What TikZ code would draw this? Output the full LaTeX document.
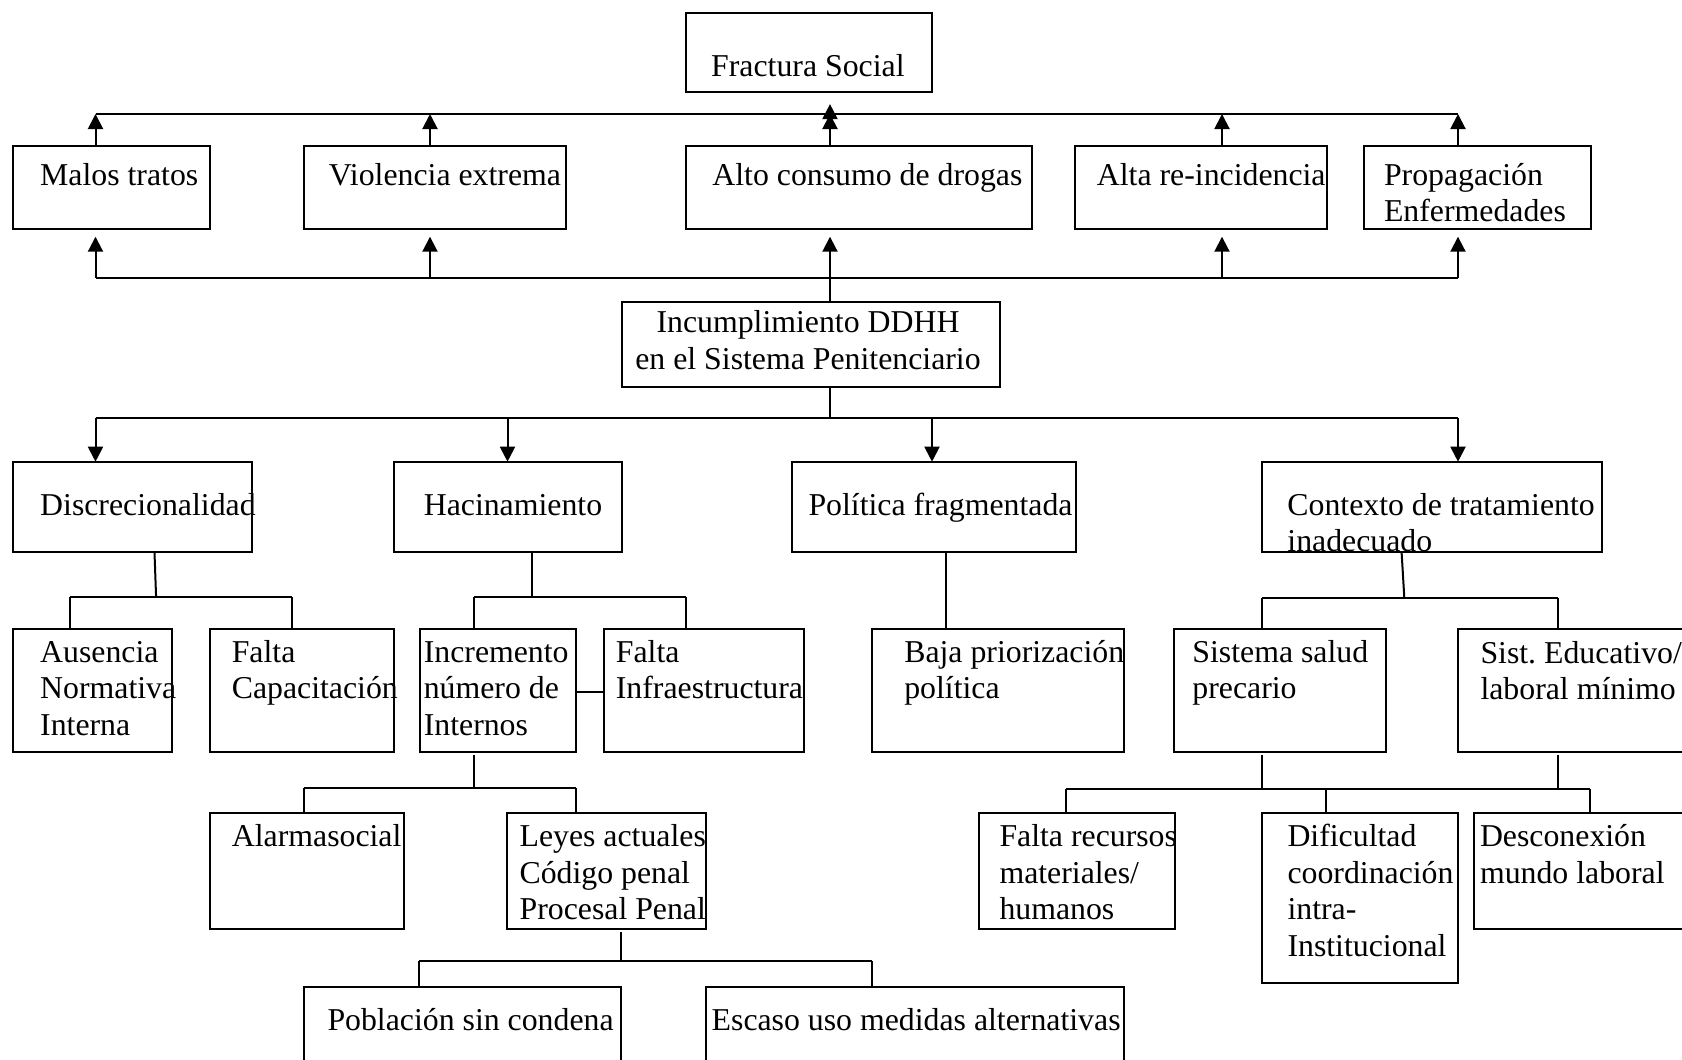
\documentclass[tikz,border=0pt]{standalone}
\usepackage{fontspec}
\setmainfont{Liberation Serif}
\usetikzlibrary{arrows.meta}
\frenchspacing
\newcommand\bx[5]{\node[box, minimum width={(#4-#2)*0.5pt}, minimum height={(#5-#3)*0.5pt}, anchor=north west] (#1) at (#2,#3) {};}
\newcommand\tx[4]{\node[txt, anchor=base west] (#1) at (#2,#3) {#4};}
\begin{document}
\begin{tikzpicture}[x=0.5pt,y=-0.5pt, line width=1pt,
 box/.style={draw, rectangle, inner sep=0pt, outer sep=0pt},
 txt/.style={inner sep=0pt, outer sep=0pt, align=left, font=\fontsize{15.9pt}{18.25pt}\selectfont},
 arr/.style={-{Triangle[length=7.5pt,width=7.5pt]}}]
\useasboundingbox (0,0) rectangle (1682,1060);
\clip (0,0) rectangle (1682,1060);
% boxes
\bx{fract}{685.6}{12.7}{932.2}{92.3}
\bx{malos}{13.4}{145.7}{209.8}{228.7}
\bx{viol}{303.6}{145.7}{566}{228.7}
\bx{alto}{685.6}{145.7}{1032}{228.7}
\bx{alta}{1075.4}{145.7}{1326.5}{228.7}
\bx{prop}{1364}{145.7}{1590.5}{228.7}
\bx{inc}{622.3}{301.7}{999.8}{386.7}
\bx{disc}{13.4}{461.7}{252}{552.3}
\bx{hac}{394.3}{461.7}{622.3}{552.3}
\bx{pol}{792.4}{461.7}{1076}{552.3}
\bx{ctx}{1262}{461.7}{1602}{552.3}
\bx{aus}{13.4}{629.3}{172.2}{751.7}
\bx{cap}{209.8}{629.3}{393.8}{751.7}
\bx{incr}{420}{629.3}{576.2}{751.7}
\bx{infra}{604}{629.3}{804.2}{751.7}
\bx{baja}{872}{629.3}{1124.3}{751.7}
\bx{salud}{1174}{629.3}{1386}{751.7}
\bx{educ}{1457.7}{629.3}{1720}{751.7}
\bx{alarma}{209.7}{812.7}{404}{929}
\bx{leyes}{507.4}{812.7}{705.6}{929}
\bx{recur}{979.4}{812.7}{1174.6}{929}
\bx{dific}{1262}{812.7}{1458}{983}
\bx{descon}{1473.5}{812.7}{1720}{929}
\bx{pobl}{303.8}{987.3}{621.4}{1100}
\bx{escaso}{705.6}{987.3}{1124.2}{1100}
% texts (anchor = baseline of last line)
\tx{fract-t}{711.2}{76}{Fractura Social}
\tx{malos-t}{40.2}{185}{Malos tratos}
\tx{viol-t}{328.9}{185}{Violencia extrema}
\tx{alto-t}{712.4}{185}{Alto consumo de drogas}
\tx{alta-t}{1096.9}{185}{Alta re-incidencia}
\tx{prop-t}{1384}{221.5}{Propagación\\Enfermedades}
\node[txt, align=center, anchor=base] (inc-t) at (808,369.2) {Incumplimiento DDHH\\en el Sistema Penitenciario};
\tx{disc-t}{40.2}{515.7}{Discrecionalidad}
\tx{hac-t}{423.8}{515.7}{Hacinamiento}
\tx{pol-t}{808.5}{515.7}{Política fragmentada}
\tx{ctx-t}{1287.4}{551.5}{Contexto de tratamiento\\inadecuado}
\tx{aus-t}{40.2}{735}{Ausencia\\Normativa\\Interna}
\tx{cap-t}{231.8}{698.5}{Falta\\Capacitación}
\tx{incr-t}{423.8}{735}{Incremento\\número de\\Internos}
\tx{infra-t}{615.9}{698.5}{Falta\\Infraestructura}
\tx{baja-t}{904.3}{698.5}{Baja priorización\\política}
\tx{salud-t}{1192.4}{698.5}{Sistema salud\\precario}
\tx{educ-t}{1480.5}{699.5}{Sist. Educativo/\\laboral mínimo}
\tx{alarma-t}{231.9}{846.7}{Alarmasocial}
\tx{leyes-t}{519.6}{919.7}{Leyes actuales\\Código penal\\Procesal Penal}
\tx{recur-t}{999.5}{919.7}{Falta recursos\\materiales/\\humanos}
\tx{dific-t}{1287.5}{956.2}{Dificultad\\coordinación\\intra-\\Institucional}
\tx{descon-t}{1480}{883.2}{Desconexión\\mundo laboral}
\tx{pobl-t}{327.5}{1030}{Población sin condena}
\tx{escaso-t}{711.7}{1030}{Escaso uso medidas alternativas}
% top bus
\coordinate (t1) at (95.5,114); \coordinate (t2) at (430,114); \coordinate (t3) at (830,114);
\coordinate (t4) at (1222,114); \coordinate (t5) at (1458,114);
\draw (t1) -- (t5);
\draw[arr] (malos.north -| t1) -- (t1);
\draw[arr] (viol.north -| t2) -- (t2);
\draw[arr] (alto.north -| t3) -- (t3);
\draw[arr] (alta.north -| t4) -- (t4);
\draw[arr] (prop.north -| t5) -- (t5);
\draw[arr, shorten >=5.9pt] (t3) -- (fract.south -| t3);
% bottom bus (upward)
\coordinate (b1) at (95.5,277.5); \coordinate (b2) at (430,277.5); \coordinate (b3) at (830,277.5);
\coordinate (b4) at (1222,277.5); \coordinate (b5) at (1458,277.5);
\draw (b1) -- (b5);
\draw[arr, shorten >=4pt] (b1) -- (malos.south -| b1);
\draw[arr, shorten >=4pt] (b2) -- (viol.south -| b2);
\draw[arr, shorten >=4pt] (inc.north -| b3) -- (alto.south -| b3);
\draw[arr, shorten >=4pt] (b4) -- (alta.south -| b4);
\draw[arr, shorten >=4pt] (b5) -- (prop.south -| b5);
% downward bus
\coordinate (d1) at (95.5,418.3); \coordinate (d2) at (507.5,418.3); \coordinate (d3) at (830,418.3);
\coordinate (d4) at (932,418.3); \coordinate (d5) at (1458,418.3);
\draw (inc.south -| d3) -- (d3);
\draw (d1) -- (d5);
\draw[arr] (d1) -- (disc.north -| d1);
\draw[arr] (d2) -- (hac.north -| d2);
\draw[arr] (d4) -- (pol.north -| d4);
\draw[arr] (d5) -- (ctx.north -| d5);
% Discrecionalidad
\coordinate (disc-s) at (154.5,552.3); \coordinate (e1) at (156.1,597.3);
\coordinate (e1a) at (69.7,597.3); \coordinate (e1b) at (291.8,597.3);
\draw (disc-s) -- (e1);
\draw (e1a) -- (e1b);
\draw (e1a) -- (aus.north -| e1a);
\draw (e1b) -- (cap.north -| e1b);
% Hacinamiento
\coordinate (e2) at (532.2,597.3); \coordinate (e2a) at (474.2,597.3); \coordinate (e2b) at (685.6,597.3);
\draw (hac.south -| e2) -- (e2);
\draw (e2a) -- (e2b);
\draw (e2a) -- (incr.north -| e2a);
\draw (e2b) -- (infra.north -| e2b);
\coordinate (lk) at (590,691.7);
\draw (incr.east |- lk) -- (infra.west |- lk);
% Politica
\coordinate (e3) at (945.6,600);
\draw (pol.south -| e3) -- (baja.north -| e3);
% Contexto
\coordinate (ctx-s) at (1401.6,552.3); \coordinate (e4) at (1404.3,597.7);
\coordinate (e4a) at (1262,597.7); \coordinate (e4b) at (1558.3,597.7);
\draw (ctx-s) -- (e4);
\draw (e4a) -- (e4b);
\draw (e4a) -- (salud.north -| e4a);
\draw (e4b) -- (educ.north -| e4b);
% Incremento
\coordinate (f1) at (474.2,788.3); \coordinate (f1a) at (303.8,788.3); \coordinate (f1b) at (575.5,788.3);
\draw[shorten <=1.5pt] (incr.south -| f1) -- (f1);
\draw (f1a) -- (f1b);
\draw (f1a) -- (alarma.north -| f1a);
\draw (f1b) -- (leyes.north -| f1b);
% Leyes
\coordinate (f2) at (621.4,961); \coordinate (f2a) at (419.4,961); \coordinate (f2b) at (871.7,961);
\draw[shorten <=1.5pt] (leyes.south -| f2) -- (f2);
\draw (f2a) -- (f2b);
\draw (f2a) -- (pobl.north -| f2a);
\draw (f2b) -- (escaso.north -| f2b);
% salud / educ
\coordinate (g1) at (1262,789); \coordinate (g2) at (1558,789);
\coordinate (ga) at (1065.8,789); \coordinate (gb) at (1325.8,789); \coordinate (gc) at (1589.6,789);
\draw[shorten <=1.5pt] (salud.south -| g1) -- (g1);
\draw[shorten <=1.5pt] (educ.south -| g2) -- (g2);
\draw (ga) -- (gc);
\draw (ga) -- (recur.north -| ga);
\draw (gb) -- (dific.north -| gb);
\draw (gc) -- (descon.north -| gc);
\end{tikzpicture}
\end{document}
